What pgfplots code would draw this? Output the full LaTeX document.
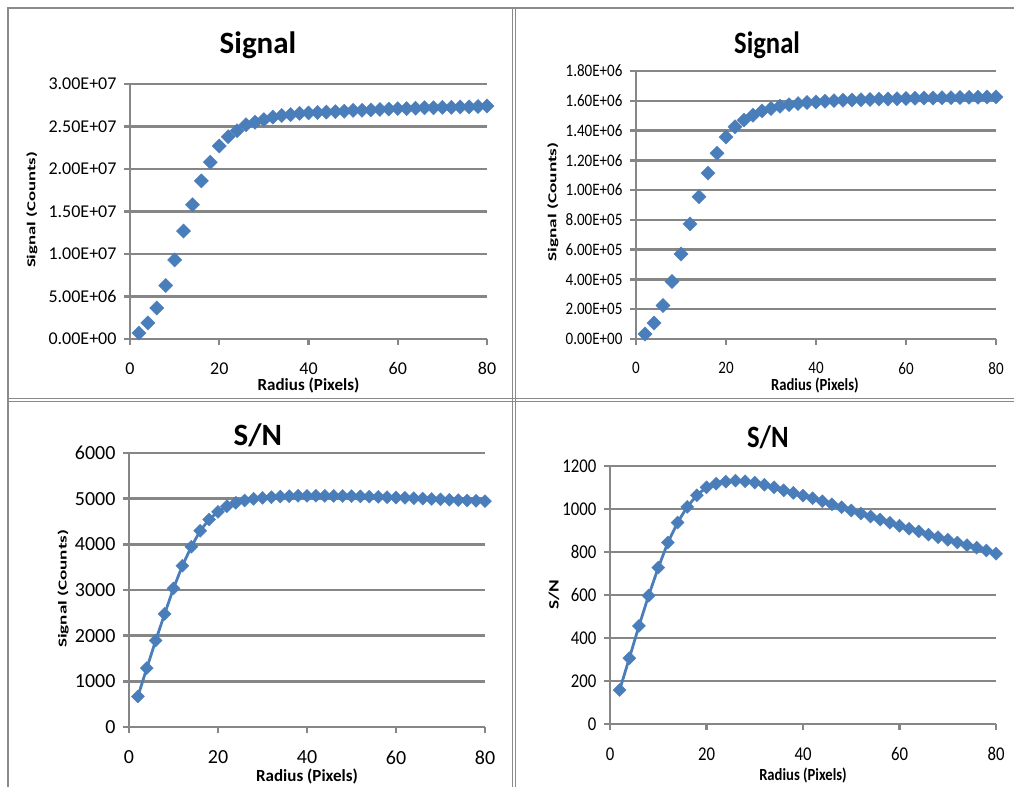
\documentclass[border=0pt]{standalone}
\usepackage{fontspec}
\setmainfont{Carlito}
\newfontfamily\cond[FakeStretch=0.86]{Carlito}
\usepackage{graphicx}
\usepackage{pgfplots}
\pgfplotsset{compat=1.18}

\definecolor{xlblue}{RGB}{74,126,187}
\definecolor{xlgrid}{RGB}{134,134,134}
\definecolor{xlframe}{RGB}{138,138,138}

\pgfplotsset{
  xlchart/.style={
    scale only axis,
    enlargelimits=false,
    axis lines=left,
    axis line style={-, xlgrid, line width=2.4pt},
    xmin=0, xmax=80, ymin=0,
    xtick={0,20,40,60,80},
    xticklabels={0,20,40,60,80},
    scaled y ticks=false,
    ymajorgrids,
    grid style={xlgrid, line width=2.4pt},
    major tick style={xlgrid, line width=2.4pt},
    tick align=outside,
    major tick length=6pt,
    clip=false,
    xticklabel style={yshift=-14pt},
    yticklabel style={xshift=-4pt},
    title style={anchor=center},
    xlabel style={anchor=center},
    ylabel style={anchor=center},
  },
  xlmarks/.style={only marks, mark=square*, mark size=5pt,
    mark options={rotate=45, fill=xlblue, draw=xlblue, line width=0.4pt}},
  xlline/.style={xlblue, line width=2.8pt, mark=square*, mark size=4.6pt,
    mark options={rotate=45, fill=xlblue, draw=xlblue, line width=0.4pt}},
}

\begin{document}
\begin{tikzpicture}[x=1pt,y=1pt]
\path[use as bounding box] (0pt,0pt) rectangle (1014pt,787pt);

% panel frames
\draw[xlframe, line width=2pt] (7pt,779pt) -- (1014pt,779pt);
\draw[xlframe, line width=2.2pt] (8pt,779pt) -- (8pt,0pt);
\draw[xlframe, line width=1.8pt] (512.5pt,779pt) -- (512.5pt,0pt);
\draw[xlframe, line width=1.8pt] (515.5pt,779pt) -- (515.5pt,0pt);
\draw[xlframe, line width=1.8pt] (8pt,388.5pt) -- (1014pt,388.5pt);
\draw[xlframe, line width=1.8pt] (8pt,385.5pt) -- (1014pt,385.5pt);

% top left: Signal
\begin{axis}[xlchart,
  at={(130pt,448pt)}, anchor=south west, width=357pt, height=255pt,
  ymax=3e7,
  ytick={0,5e6,1e7,1.5e7,2e7,2.5e7,3e7},
  yticklabels={0.00E+00,5.00E+06,1.00E+07,1.50E+07,2.00E+07,2.50E+07,3.00E+07},
  tick label style={font=\fontsize{18}{18}\selectfont},
  title={Signal},
  title style={at={(axis description cs:0.3585,1.13)}, font=\bfseries\fontsize{31}{31}\selectfont},
  xlabel={Radius (Pixels)},
  xlabel style={at={(axis description cs:0.5,-0.184)}, font=\bfseries\fontsize{17}{17}\selectfont},
  ylabel={\resizebox{116pt}{9pt}{\bfseries Signal (Counts)}},
  ylabel style={at={(axis description cs:-0.2745,0.506)}},
]
\addplot[xlmarks] table {
x y
2 7.0e5
4 1.9e6
6 3.65e6
8 6.3e6
10 9.3e6
12 1.27e7
14 1.58e7
16 1.86e7
18 2.08e7
20 2.27e7
22 2.38e7
24 2.45e7
26 2.52e7
28 2.55e7
30 2.58e7
32 2.61e7
34 2.63e7
36 2.64e7
38 2.655e7
40 2.66e7
42 2.665e7
44 2.67e7
46 2.675e7
48 2.68e7
50 2.69e7
52 2.69e7
54 2.695e7
56 2.70e7
58 2.705e7
60 2.71e7
62 2.71e7
64 2.715e7
66 2.72e7
68 2.72e7
70 2.725e7
72 2.725e7
74 2.73e7
76 2.73e7
78 2.735e7
80 2.74e7
};
\end{axis}

% top right: Signal
\begin{axis}[xlchart,
  at={(636pt,448pt)}, anchor=south west, width=360pt, height=268pt,
  ymax=1.8e6,
  ytick={0,2e5,4e5,6e5,8e5,1e6,1.2e6,1.4e6,1.6e6,1.8e6},
  yticklabels={0.00E+00,2.00E+05,4.00E+05,6.00E+05,8.00E+05,1.00E+06,1.20E+06,1.40E+06,1.60E+06,1.80E+06},
  tick label style={font=\cond\fontsize{17.5}{17.5}\selectfont},
  title={Signal},
  title style={at={(axis description cs:0.364,1.074)}, font=\cond\bfseries\fontsize{31}{31}\selectfont},
  xlabel={Radius (Pixels)},
  xlabel style={at={(axis description cs:0.497,-0.175)}, font=\cond\bfseries\fontsize{17}{17}\selectfont},
  ylabel={\resizebox{119pt}{9pt}{\bfseries Signal (Counts)}},
  ylabel style={at={(axis description cs:-0.2306,0.511)}},
]
\addplot[xlmarks] table {
x y
2 3.4e4
4 1.07e5
6 2.25e5
8 3.86e5
10 5.71e5
12 7.73e5
14 9.56e5
16 1.114e6
18 1.248e6
20 1.356e6
22 1.425e6
24 1.470e6
26 1.503e6
28 1.532e6
30 1.548e6
32 1.563e6
34 1.574e6
36 1.581e6
38 1.588e6
40 1.592e6
42 1.597e6
44 1.601e6
46 1.603e6
48 1.605e6
50 1.607e6
52 1.609e6
54 1.611e6
56 1.612e6
58 1.614e6
60 1.615e6
62 1.617e6
64 1.618e6
66 1.619e6
68 1.620e6
70 1.621e6
72 1.622e6
74 1.623e6
76 1.624e6
78 1.625e6
80 1.626e6
};
\end{axis}

% bottom left: S/N
\begin{axis}[xlchart,
  at={(129pt,60pt)}, anchor=south west, width=356pt, height=274pt,
  ymax=6000,
  ytick={0,1000,2000,3000,4000,5000,6000},
  yticklabels={0,1000,2000,3000,4000,5000,6000},
  tick label style={font=\fontsize{20}{20}\selectfont},
  title={S/N},
  title style={at={(axis description cs:0.362,1.042)}, font=\bfseries\fontsize{31}{31}\selectfont},
  xlabel={Radius (Pixels)},
  xlabel style={at={(axis description cs:0.5,-0.182)}, font=\bfseries\fontsize{17}{17}\selectfont},
  ylabel={\resizebox{118pt}{9pt}{\bfseries Signal (Counts)}},
  ylabel style={at={(axis description cs:-0.185,0.504)}},
]
\addplot[xlline] table {
x y
2 670
4 1289
6 1894
8 2476
10 3037
12 3532
14 3947
16 4297
18 4545
20 4712
22 4836
24 4909
26 4960
28 4996
30 5018
32 5033
34 5047
36 5054
38 5062
40 5062
42 5063
44 5062
46 5060
48 5058
50 5055
52 5050
54 5045
56 5040
58 5033
60 5025
62 5018
64 5010
66 5002
68 4994
70 4985
72 4977
74 4968
76 4960
78 4952
80 4945
};
\end{axis}

% bottom right: S/N
\begin{axis}[xlchart,
  at={(610pt,63pt)}, anchor=south west, width=386pt, height=258pt,
  ymax=1200,
  ytick={0,200,400,600,800,1000,1200},
  yticklabels={0,200,400,600,800,1000,1200},
  tick label style={font=\cond\fontsize{19.5}{19.5}\selectfont},
  title={S/N},
  title style={at={(axis description cs:0.409,1.086)}, font=\cond\bfseries\fontsize{31}{31}\selectfont},
  xlabel={Radius (Pixels)},
  xlabel style={at={(axis description cs:0.5,-0.198)}, font=\cond\bfseries\fontsize{17}{17}\selectfont},
  ylabel={\resizebox{30pt}{10pt}{\bfseries S/N}},
  ylabel style={at={(axis description cs:-0.145,0.5)}},
]
\addplot[xlline] table {
x y
2 158
4 306
6 456
8 597
10 727
12 844
14 937
16 1010
18 1064
20 1101
22 1118
24 1127
26 1132
28 1129
30 1123
32 1113
34 1101
36 1087
38 1075
40 1062
42 1050
44 1036
46 1022
48 1008
50 993
52 979
54 965
56 951
58 936
60 922
62 908
64 896
66 881
68 869
70 857
72 844
74 832
76 820
78 807
80 792
};
\end{axis}
\end{tikzpicture}
\end{document}
